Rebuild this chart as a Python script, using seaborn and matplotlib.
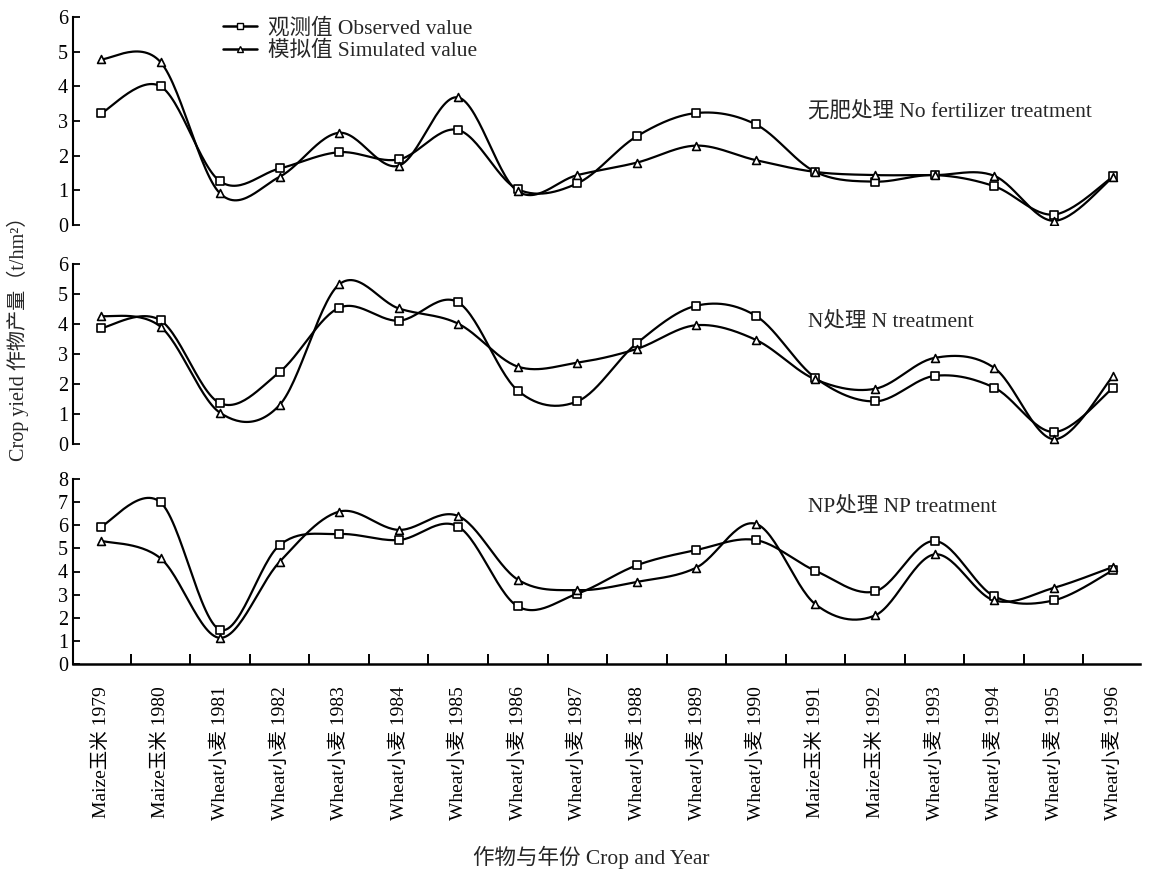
import numpy as np
import pandas as pd
import matplotlib
matplotlib.use("Agg")
import matplotlib.pyplot as plt
from matplotlib.lines import Line2D
import seaborn as sns

# ---------------- data ----------------
crops = ["Maize玉米", "Maize玉米", "Wheat小麦", "Wheat小麦", "Wheat小麦", "Wheat小麦",
         "Wheat小麦", "Wheat小麦", "Wheat小麦", "Wheat小麦", "Wheat小麦", "Wheat小麦",
         "Maize玉米", "Maize玉米", "Wheat小麦", "Wheat小麦", "Wheat小麦", "Wheat小麦"]
years = [1979, 1980, 1981, 1982, 1983, 1984, 1985, 1986, 1987, 1988, 1989, 1990,
         1991, 1992, 1993, 1994, 1995, 1996]

none_obs = [3.22, 4.00, 1.26, 1.63, 2.10, 1.89, 2.74, 1.03, 1.20, 2.56, 3.23, 2.90,
            1.53, 1.25, 1.44, 1.12, 0.30, 1.40]
none_sim = [4.78, 4.70, 0.91, 1.39, 2.66, 1.71, 3.68, 0.97, 1.44, 1.80, 2.29, 1.87,
            1.53, 1.44, 1.44, 1.42, 0.12, 1.39]

n_obs = [3.86, 4.12, 1.36, 2.40, 4.54, 4.11, 4.72, 1.78, 1.42, 3.36, 4.61, 4.27,
         2.20, 1.42, 2.27, 1.88, 0.40, 1.88]
n_sim = [4.27, 3.91, 1.04, 1.30, 5.32, 4.52, 4.01, 2.58, 2.71, 3.17, 3.96, 3.47,
         2.15, 1.84, 2.87, 2.54, 0.16, 2.27]

np_obs = [5.94, 6.99, 1.48, 5.14, 5.62, 5.36, 5.94, 2.49, 3.04, 4.27, 4.93, 5.36,
          4.03, 3.14, 5.32, 2.93, 2.75, 4.06]
np_sim = [5.33, 4.57, 1.13, 4.42, 6.59, 5.80, 6.40, 3.65, 3.19, 3.55, 4.17, 6.06,
          2.58, 2.10, 4.74, 2.75, 3.29, 4.20]

panel_titles = ["无肥处理 No fertilizer treatment", "N处理 N treatment", "NP处理 NP treatment"]
panel_ymax = [6, 6, 8]
legend_labels = ["观测值 Observed value", "模拟值 Simulated value"]
xlabel = "作物与年份 Crop and Year"
ylabel = "Crop yield 作物产量（t/hm²）"
tick_labels = [f"{c} {y}" for c, y in zip(crops, years)]

# ---------------- style ----------------
sns.set_theme(style="white")
FAM = ["Liberation Serif", "Noto Sans CJK SC", "DejaVu Sans"]
plt.rcParams["font.family"] = FAM
plt.rcParams["axes.unicode_minus"] = False


def smooth(xs, ys, n=30):
    """Excel-style smoothed line (Catmull-Rom Bezier) through the data points."""
    xs = np.asarray(xs, float)
    ys = np.asarray(ys, float)
    P = np.column_stack([xs, ys])
    Pe = np.vstack([P[0], P, P[-1]])
    out = []
    t = np.linspace(0, 1, n)[:, None]
    for i in range(len(P) - 1):
        p0, p1, p2, p3 = Pe[i], Pe[i + 1], Pe[i + 2], Pe[i + 3]
        c1 = p1 + (p2 - p0) / 6.0
        c2 = p2 - (p3 - p1) / 6.0
        seg = ((1 - t) ** 3) * p1 + 3 * ((1 - t) ** 2) * t * c1 + 3 * (1 - t) * t ** 2 * c2 + t ** 3 * p2
        out.append(seg if i == 0 else seg[1:])
    s = np.vstack(out)
    return s[:, 0], s[:, 1]


fig = plt.figure(figsize=(11.49, 8.72), dpi=100)
W, H = 1149, 872
left, right = 73 / W, 1140 / W
rects = [(17, 225), (264, 444), (479, 664)]
title_y = [111, 321, 506]
series = [(none_obs, none_sim), (n_obs, n_sim), (np_obs, np_sim)]
xpos = np.arange(len(years))
FS = 15.5

axes = []
for k, ((top, bot), (obs, sim)) in enumerate(zip(rects, series)):
    ax = fig.add_axes([left, 1 - bot / H, right - left, (bot - top) / H])
    axes.append(ax)
    for vals, mk, ms in [(obs, "s", 26), (sim, "^", 32)]:
        sx, sy = smooth(xpos, vals)
        sns.lineplot(x=sx, y=sy, ax=ax, color="black", linewidth=1.6, sort=False,
                     estimator=None, legend=False, zorder=2)
        sns.scatterplot(x=xpos, y=vals, ax=ax, marker=mk, s=ms, facecolor="white",
                        edgecolor="black", linewidth=1.2, zorder=3, legend=False)
    ax.set_xlim(-0.47, 17.45)
    ax.set_ylim(0, panel_ymax[k])
    ax.set_yticks(range(0, panel_ymax[k] + 1))
    ax.tick_params(axis="y", direction="in", length=5, width=1.3, pad=3.5,
                   labelsize=14.5, left=True, colors="black")
    for s in ["top", "right"]:
        ax.spines[s].set_visible(False)
    ax.spines["left"].set_color("black")
    ax.spines["left"].set_linewidth(1.5)
    ax.set_xlabel("")
    ax.set_ylabel("")
    fig.text(808 / W, 1 - title_y[k] / H, panel_titles[k], fontsize=FS,
             va="center", ha="left", family=FAM)
    if k < 2:
        ax.spines["bottom"].set_visible(False)
        ax.set_xticks([])
    else:
        ax.spines["bottom"].set_color("black")
        ax.spines["bottom"].set_linewidth(1.8)
        ax.set_xticks(xpos)
        ax.set_xticklabels(tick_labels, rotation=90, fontsize=14)
        ax.tick_params(axis="x", which="major", length=0, pad=16, colors="black")
        ax.set_xticks(xpos[:-1] + 0.5, minor=True)
        ax.tick_params(axis="x", which="minor", direction="in", length=7, width=1.4,
                       bottom=True, colors="black")
    ax.set_facecolor("white")

handles = [Line2D([], [], color="black", lw=1.8, marker="s", ms=4.5, mfc="white", mec="black"),
           Line2D([], [], color="black", lw=1.8, marker="^", ms=5, mfc="white", mec="black")]
fig.legend(handles, legend_labels, loc="upper left", bbox_to_anchor=(223 / W, 1 - 18 / H),
           frameon=False, fontsize=FS, handlelength=1.6, handletextpad=0.5,
           labelspacing=0.12, borderpad=0.0, borderaxespad=0.0)

fig.text(18 / W, 1 - 334 / H, ylabel, rotation=90, va="center", ha="center", fontsize=14.5)
fig.text(591 / W, 1 - 857 / H, xlabel, va="center", ha="center", fontsize=FS)

fig.savefig("out.png", dpi=100, facecolor="white")
